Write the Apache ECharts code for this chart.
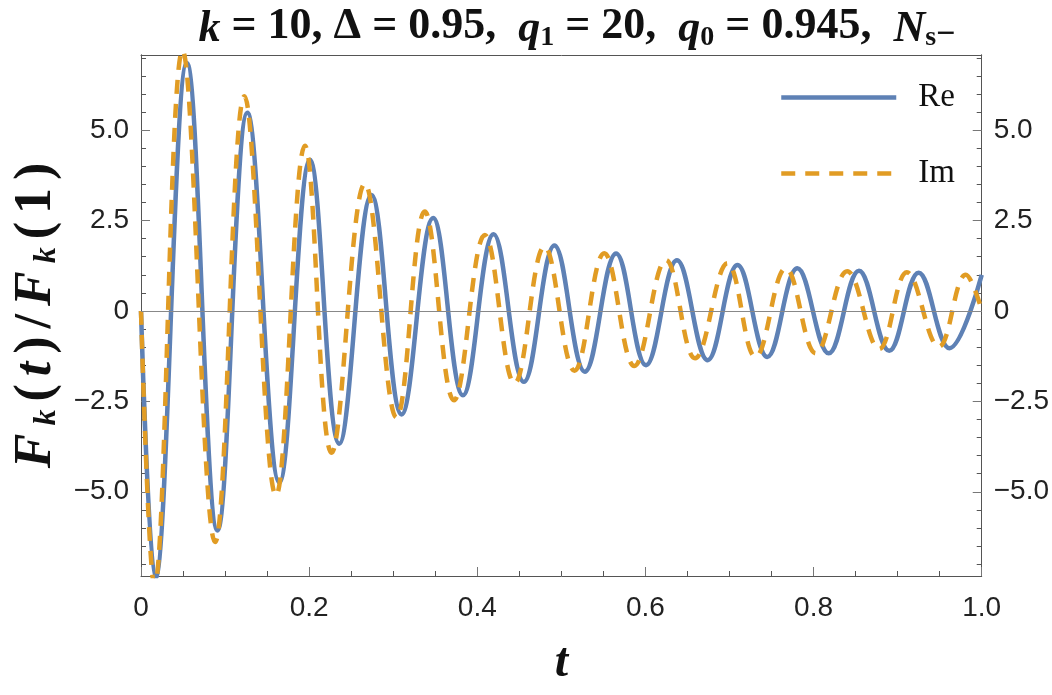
<!DOCTYPE html>
<html>
<head>
<meta charset="UTF-8">
<title>F_k(t)/F_k(1)</title>
<script src="https://cdn.jsdelivr.net/npm/echarts@6/dist/echarts.min.js"></script>
<style>
  html, body { margin: 0; padding: 0; background: #fff; }
  #chart { width: 1052px; height: 695px; }
</style>
</head>
<body>
<div id="chart"></div>
<script>
// Re part: end points and extrema
var reT = [0, 0.017, 0.0546, 0.091, 0.1266, 0.1646, 0.201, 0.2358, 0.2742, 0.310, 0.3475,
  0.383, 0.4194, 0.4555, 0.4918, 0.528, 0.5651, 0.6007, 0.6375, 0.674, 0.7095, 0.745,
  0.7807, 0.818, 0.854, 0.890, 0.925, 0.9616, 1.0];
var reV = [0, -7.4, 6.86, -6.07, 5.48, -4.75, 4.18, -3.67, 3.21, -2.86, 2.57,
  -2.33, 2.12, -1.96, 1.81, -1.68, 1.59, -1.50, 1.40, -1.36, 1.27, -1.27,
  1.18, -1.17, 1.11, -1.10, 1.06, -1.03, 1.0];

// Im part
var imT = [0, 0.016, 0.0494, 0.0882, 0.123, 0.1606, 0.195, 0.2267, 0.2663, 0.304, 0.3375,
  0.3723, 0.409, 0.4444, 0.48, 0.5156, 0.551, 0.5868, 0.6245, 0.659, 0.6976, 0.731,
  0.767, 0.8026, 0.840, 0.878, 0.911, 0.949, 0.981, 1.0];
var imV = [0, -7.6, 7.2, -6.39, 5.94, -5.10, 4.57, -3.92, 3.52, -2.95, 2.75,
  -2.47, 2.1, -2.0, 1.78, -1.65, 1.6, -1.52, 1.41, -1.31, 1.32, -1.27,
  1.18, -1.17, 1.1, -1.05, 1.07, -0.99, 1.0, 0.02];

// axis ticks
var yMajor = [-5, -2.5, 0, 2.5, 5];
var yMinor = [-7, -6.5, -6, -5.5, -4.5, -4, -3.5, -3, -2, -1.5, -1, -0.5,
  0.5, 1, 1.5, 2, 3, 3.5, 4, 4.5, 5.5, 6, 6.5, 7];
var yMin = -7.33, yMax = 7.08;

function pairs(xs, ys) {
  return xs.map(function (x, i) { return [x, ys[i]]; });
}

var blue = '#5E81B5', orange = '#E19C24';
var frame = '#555';
var labelFont = { fontFamily: 'Liberation Sans', fontSize: 28, color: '#222' };

function yLabel(v) {
  if (v === 0) return '0';
  return (v < 0 ? '\u2212' : '') + Math.abs(v).toFixed(1);
}

var serif = 'Liberation Serif';
function tok(size, italic, lh) {
  return { fontFamily: serif, fontWeight: 'bold', fontStyle: italic ? 'italic' : 'normal',
    fontSize: size, lineHeight: lh, verticalAlign: 'bottom', padding: [0, 4], color: '#111' };
}

function yAx(pos, major) {
  return {
    type: 'value', position: pos, min: yMin, max: yMax,
    axisLine: { show: true, onZero: false, lineStyle: { color: frame, width: 1 } },
    axisTick: { show: true, inside: true, length: major ? 9 : 5, customValues: major ? yMajor : yMinor,
      lineStyle: { color: major ? '#777' : frame } },
    axisLabel: major ? Object.assign({ show: true, margin: 12, customValues: yMajor, formatter: yLabel }, labelFont)
                     : { show: false },
    splitLine: { show: false },
    name: (major && pos === 'left') ? '{i|F}{s|k}{b|(}{i|t}{b|)}{b|/}{i|F}{s|k}{b|(}{b|1}{b|)}' : '',
    nameLocation: 'middle', nameRotate: 90, nameGap: 78,
    nameTextStyle: {
      rich: { i: tok(52, true, 56), b: tok(52, false, 56), s: tok(32, true, 34) }
    }
  };
}

var chart = echarts.init(document.getElementById('chart'));
chart.setOption({
  animation: false,
  backgroundColor: '#fff',
  title: {
    text: '{i|k} = 10, \u0394 = 0.95,  {i|q}{s|1} = 20,  {i|q}{s|0} = 0.945,  {i|N}{s|s}{m|\u2212}',
    left: 572, top: -3, textAlign: 'center',
    textStyle: {
      fontFamily: serif, fontWeight: 'bold', fontSize: 44, lineHeight: 50, color: '#111',
      rich: {
        i: { fontFamily: serif, fontWeight: 'bold', fontStyle: 'italic', fontSize: 44, lineHeight: 50, verticalAlign: 'bottom', color: '#111' },
        s: { fontFamily: serif, fontWeight: 'bold', fontSize: 28, lineHeight: 30, verticalAlign: 'bottom', color: '#111' },
        m: { fontFamily: serif, fontWeight: 'bold', fontSize: 34, lineHeight: 32, verticalAlign: 'bottom', color: '#111' }
      }
    }
  },
  legend: {
    orient: 'vertical', left: 774, top: 76,
    itemWidth: 115, itemHeight: 32, itemGap: 43,
    itemStyle: { opacity: 0 },
    lineStyle: { width: 4.5 },
    textStyle: { fontFamily: serif, fontSize: 33, color: '#111', padding: [0, 0, 0, 17] },
    data: ['Re', 'Im']
  },
  grid: { left: 141, right: 69, top: 55, bottom: 119 },
  xAxis: [{
    type: 'value', min: 0, max: 1, interval: 0.2, position: 'bottom',
    axisLine: { show: true, onZero: false, lineStyle: { color: frame, width: 1 } },
    axisTick: { show: true, inside: true, length: 9, lineStyle: { color: '#777' } },
    minorTick: { show: true, splitNumber: 4, length: 5, lineStyle: { color: frame } },
    axisLabel: Object.assign({ margin: 18, formatter: function (v) { return v === 0 ? '0' : v.toFixed(1); } }, labelFont),
    splitLine: { show: false },
    name: 't', nameLocation: 'middle', nameGap: 64,
    nameTextStyle: { fontFamily: serif, fontWeight: 'bold', fontStyle: 'italic', fontSize: 48, color: '#111' }
  }, {
    type: 'value', min: 0, max: 1, position: 'top',
    axisLine: { show: true, onZero: false, lineStyle: { color: frame, width: 1 } },
    axisTick: { show: false }, axisLabel: { show: false }, splitLine: { show: false }
  }],
  yAxis: [yAx('left', true), yAx('left', false), yAx('right', true), yAx('right', false)],
  series: [{
    name: 'Re', type: 'line', data: pairs(reT, reV), smooth: 0.4,
    showSymbol: false, symbol: 'none', clip: true,
    lineStyle: { color: blue, width: 4.5 }, itemStyle: { color: blue },
    markLine: {
      silent: true, symbol: 'none', label: { show: false },
      lineStyle: { color: '#888', width: 1, type: 'solid' },
      data: [{ yAxis: 0 }]
    },
    z: 3
  }, {
    name: 'Im', type: 'line', data: pairs(imT, imV), smooth: 0.4,
    showSymbol: false, symbol: 'none', clip: true,
    lineStyle: { color: orange, width: 4.5, type: [14, 10] }, itemStyle: { color: orange },
    z: 4
  }]
});
</script>
</body>
</html>
